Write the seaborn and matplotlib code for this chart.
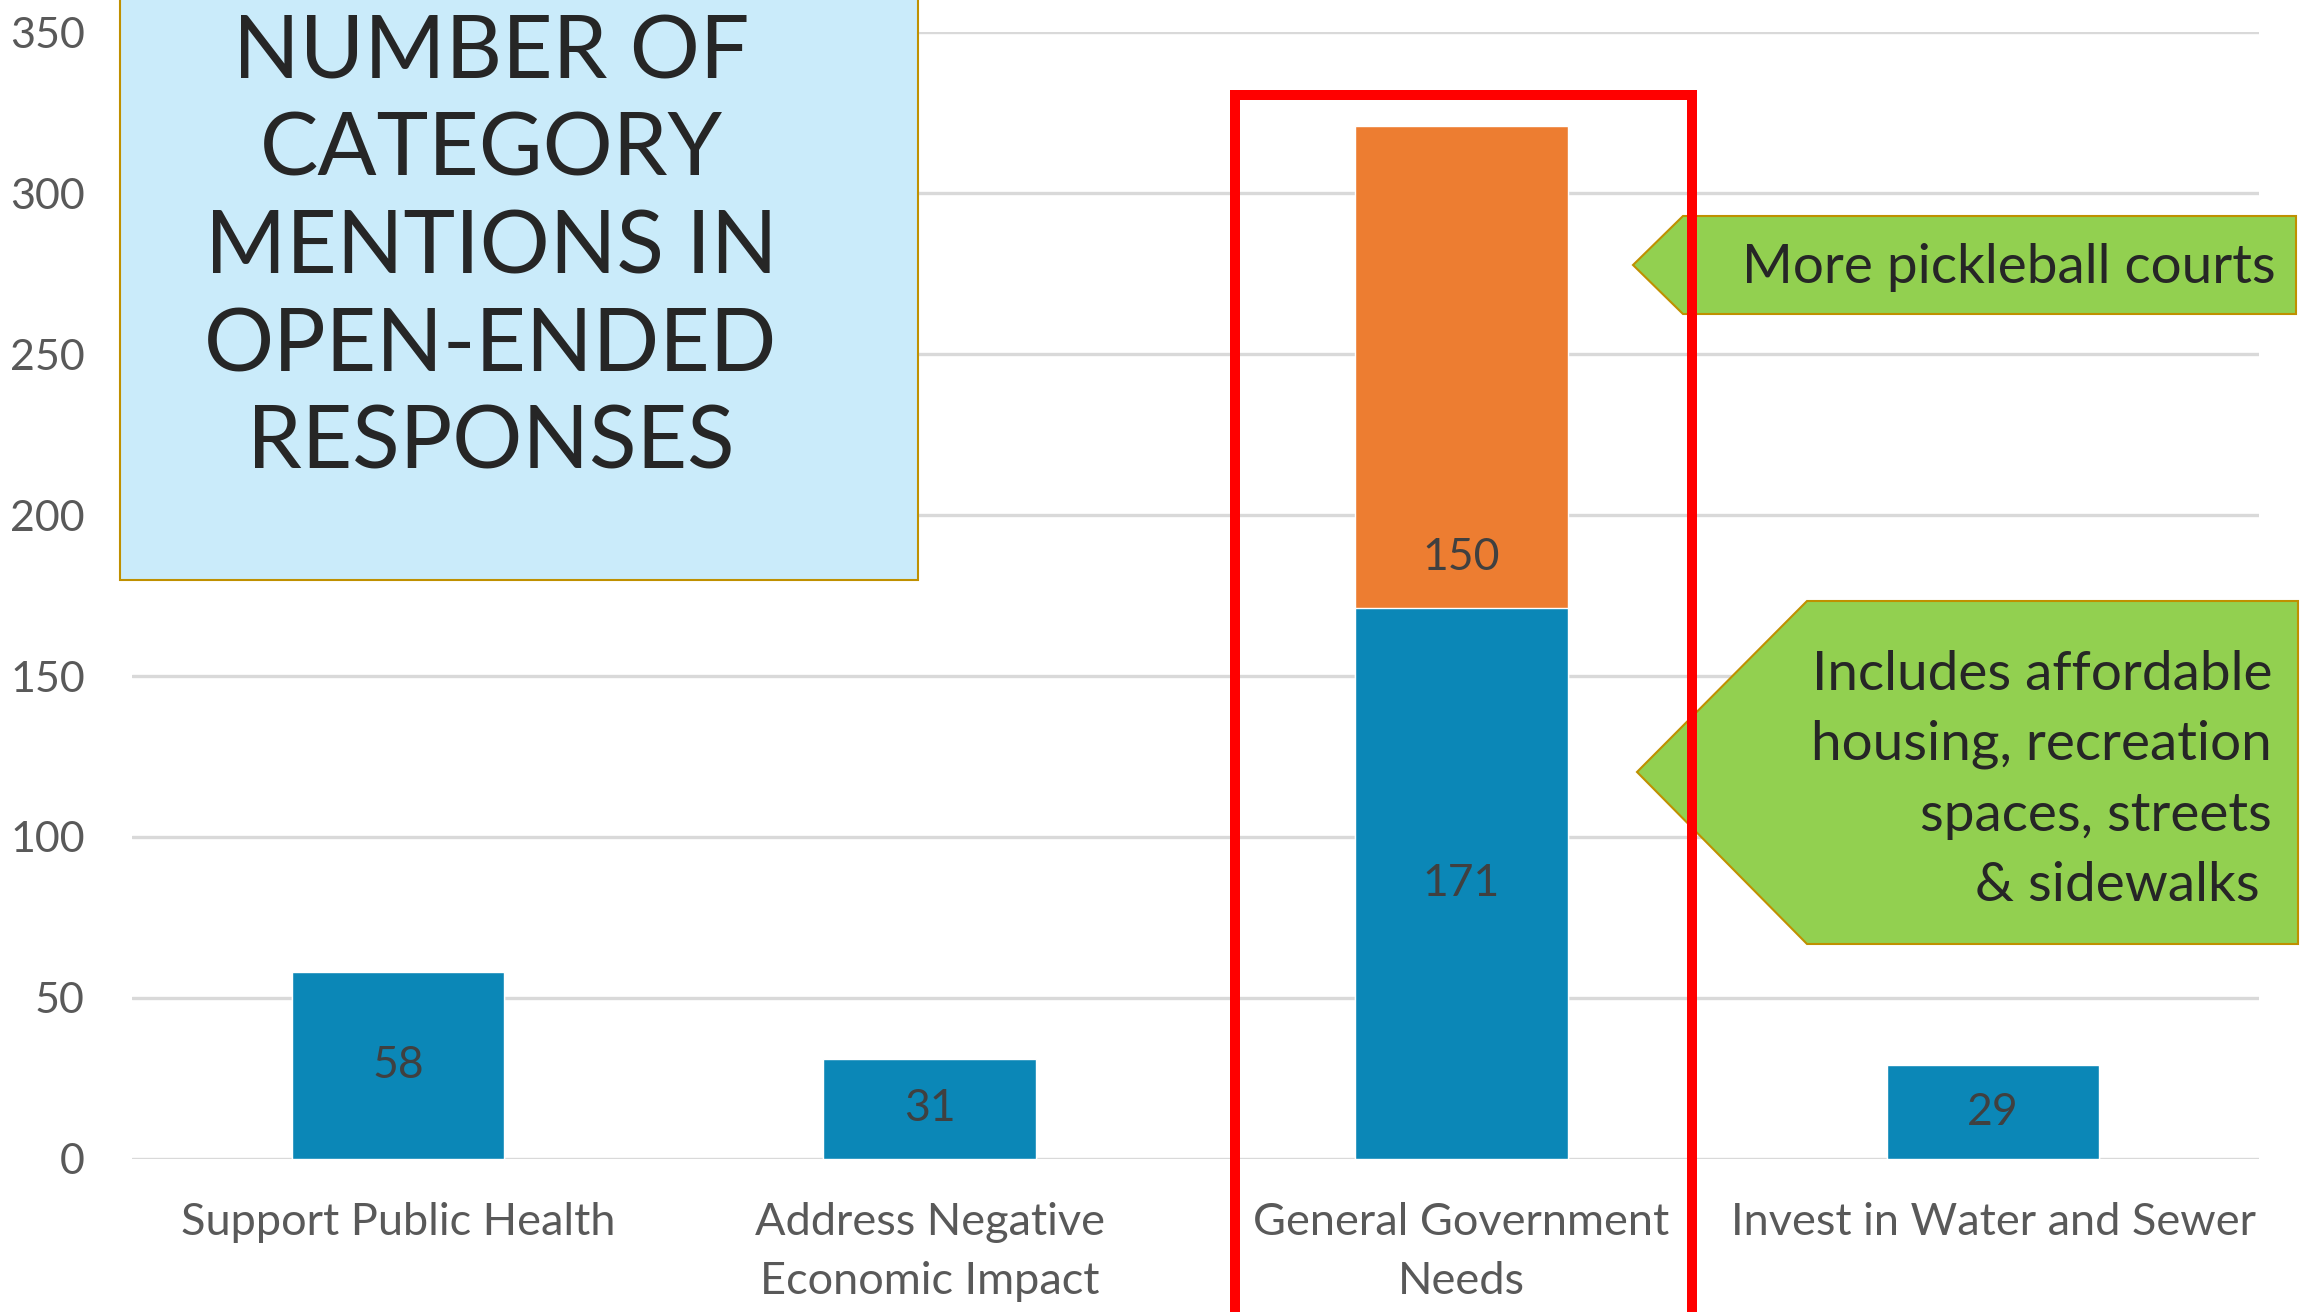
import matplotlib.pyplot as plt
import matplotlib.patches as mpatches
import numpy as np
import pandas as pd
import seaborn as sns

# 1. Data
categories = ["Support Public Health", "Address Negative\nEconomic Impact",
              "General Government\nNeeds", "Invest in Water and Sewer"]
base_counts = [58, 31, 171, 29]
extra_counts = [0, 0, 150, 0]
y_ticks = [0, 50, 100, 150, 200, 250, 300, 350]

title_lines = ["NUMBER OF", "CATEGORY", "MENTIONS IN", "OPEN-ENDED", "RESPONSES"]
note_top = "More pickleball courts"
note_bottom = ["Includes affordable", "housing, recreation", "spaces, streets", "& sidewalks"]

df = pd.DataFrame({"category": categories, "base": base_counts, "extra": extra_counts})
df["total"] = df["base"] + df["extra"]

# 2. Style
sns.set_theme(style="white")
plt.rcParams["font.family"] = ["Lato", "DejaVu Sans"]

W, H = 2300, 1312
fig = plt.figure(figsize=(W / 100, H / 100), dpi=100)


def px(x, y):
    # pixel (top-left origin) -> figure fraction
    return (x / W, 1 - y / H)


ax_left, ax_right, ax_top, ax_bottom = 132, 2259, 32.3, 1158.8
ax = fig.add_axes([ax_left / W, 1 - ax_bottom / H, (ax_right - ax_left) / W, (ax_bottom - ax_top) / H])

# 3. Bars (stacked: total in orange, base in blue on top)
sns.barplot(data=df, x="category", y="total", color="#ED7D31", width=0.4,
            saturation=1, ax=ax, zorder=3)
sns.barplot(data=df, x="category", y="base", color="#0B87B7", width=0.4,
            saturation=1, ax=ax, zorder=4)

ax.set_ylim(0, 350)
ax.set_xlim(-0.5, 3.5)
ax.set_yticks(y_ticks)
ax.yaxis.grid(True, color="#D9D9D9", linewidth=2.4, zorder=0)
ax.set_axisbelow(True)
for s in ax.spines.values():
    s.set_visible(False)
ax.set_xlabel("")
ax.set_ylabel("")
ax.tick_params(axis="y", length=0, pad=34, labelsize=31, labelcolor="#595959")
ax.tick_params(axis="x", length=0, pad=31, labelsize=32.5, labelcolor="#595959")
for lbl in ax.get_xticklabels():
    lbl.set_linespacing(1.55)

# 4. Data labels
for i, row in df.iterrows():
    ax.text(i, row["base"] / 2, str(row["base"]), ha="center", va="center",
            fontsize=32, color="#404040", zorder=5)
    if row["extra"] > 0:
        ax.annotate(str(row["extra"]), xy=(i, row["base"]), xytext=(0, 22),
                    textcoords="offset points", ha="center", va="bottom",
                    fontsize=32, color="#404040", zorder=5)

# 5. Title box
box = mpatches.Rectangle(px(120, 580), 798 / W, 600 / H, transform=fig.transFigure,
                         facecolor="#CAEBFA", edgecolor="#BF9000", linewidth=1.5, zorder=10)
fig.add_artist(box)
for k, line in enumerate(title_lines):
    fig.text(*px(491, 54 + k * 97.5), line, ha="center", va="center",
             fontsize=63, color="#262626", zorder=11)

# 6. Callouts
c1 = [(1683, 216), (2296, 216), (2296, 314), (1683, 314), (1633, 265)]
c2 = [(1807, 601), (2298, 601), (2298, 944), (1807, 944), (1637, 772)]
for pts in (c1, c2):
    poly = mpatches.Polygon([px(x, y) for x, y in pts], closed=True, transform=fig.transFigure,
                            facecolor="#92D050", edgecolor="#BF9000", linewidth=1.5, zorder=10)
    fig.add_artist(poly)
fig.text(*px(2276, 268), note_top, ha="right", va="center", fontsize=39.5,
         color="#262626", zorder=11)
for k, line in enumerate(note_bottom):
    x_right = 2272 if k < 3 else 2260
    fig.text(*px(x_right, 674 + k * 70.5), line, ha="right", va="center", fontsize=39.5,
             color="#262626", zorder=11)

# 7. Red highlight frame
frame = mpatches.Rectangle(px(1235, 1340), (1692 - 1235) / W, (1340 - 95) / H,
                           transform=fig.transFigure, facecolor="none",
                           edgecolor="#FF0000", linewidth=7.2, zorder=12)
fig.add_artist(frame)

fig.savefig("out.png", dpi=100)
